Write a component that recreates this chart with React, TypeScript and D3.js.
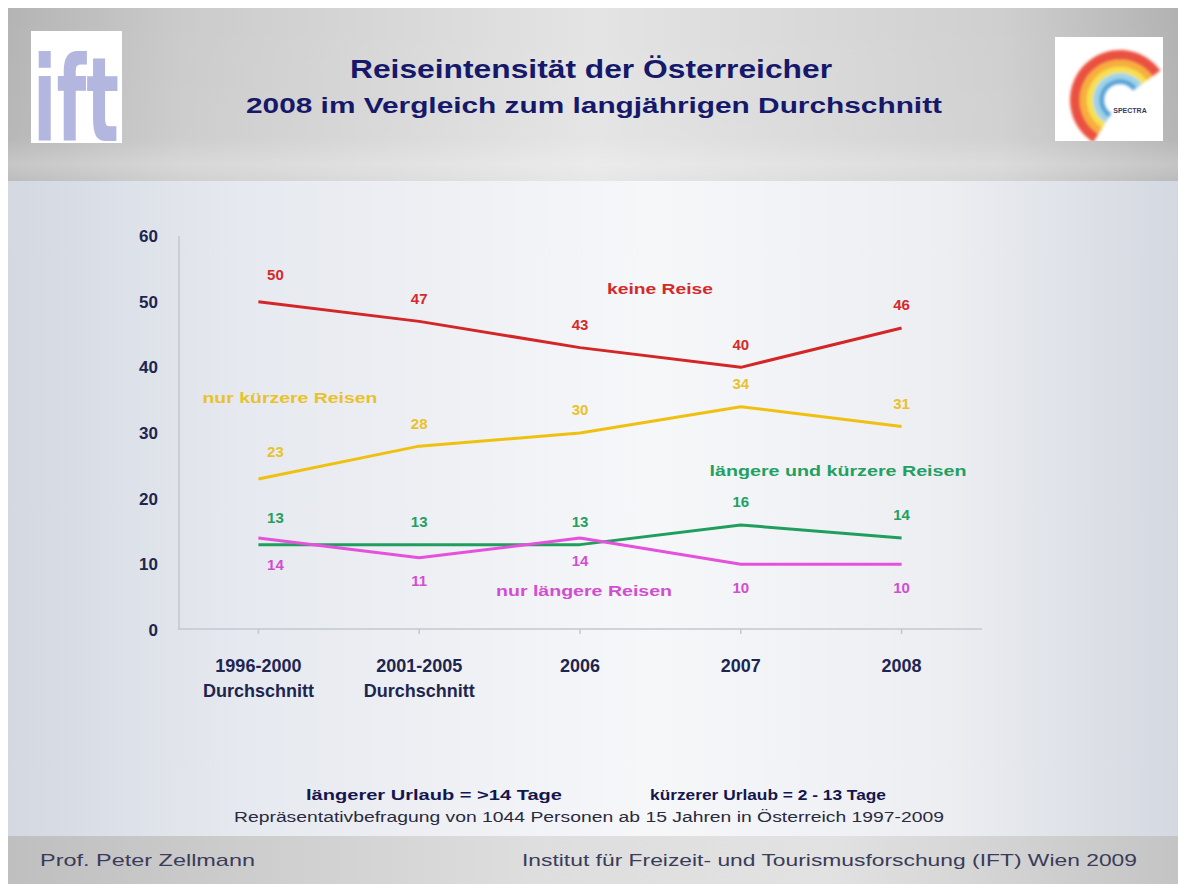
import React from "react";
import * as d3 from "d3";

const categories = ["1996-2000|Durchschnitt", "2001-2005|Durchschnitt", "2006", "2007", "2008"];
const keineReise = [50, 47, 43, 40, 46];
const nurKuerzere = [23, 28, 30, 34, 31];
const laengereUndKuerzere = [13, 13, 13, 16, 14];
const nurLaengere = [14, 11, 14, 10, 10];
const yTicks = [0, 10, 20, 30, 40, 50, 60];

const seriesNames = ["keine Reise", "nur kürzere Reisen", "längere und kürzere Reisen", "nur längere Reisen"];

const W = 1178;
const H = 884;
const FONT = "'Liberation Sans', Arial, sans-serif";
const NAVY = "#1e2550";

export default function App() {
  const x = d3.scalePoint<string>().domain(categories).range([178, 982]).padding(0.5);
  const y = d3.scaleLinear().domain([0, 60]).range([630, 236]);
  const line = d3
    .line<number>()
    .x((_, i) => x(categories[i]) as number)
    .y((d) => y(d));

  const series = [
    { name: seriesNames[0], values: keineReise, stroke: "#d42626", text: "#d42a2a", dir: -1,
      nameX: 660, nameY: 294, nameLen: 106 },
    { name: seriesNames[1], values: nurKuerzere, stroke: "#f0c010", text: "#e9c22a", dir: -1,
      nameX: 290, nameY: 403, nameLen: 175 },
    { name: seriesNames[2], values: laengereUndKuerzere, stroke: "#1f9e5e", text: "#22a062", dir: -1,
      nameX: 838, nameY: 476, nameLen: 257 },
    { name: seriesNames[3], values: nurLaengere, stroke: "#e452dc", text: "#d24ed0", dir: 1,
      nameX: 584, nameY: 596, nameLen: 176 },
  ];

  const arcGen = d3.arc<any>();
  const rainbow = [
    { r0: 40, r1: 50, c: "#e8321e" },
    { r0: 33, r1: 40, c: "#f7a11a" },
    { r0: 27, r1: 33, c: "#f4dc2a" },
    { r0: 21, r1: 27, c: "#8ccbe6" },
    { r0: 16, r1: 21, c: "#3a92cf" },
  ];

  return (
    <svg width={W} height={H} style={{ display: "block", position: "absolute", left: 0, top: 0 }} fontFamily={FONT}>
      <defs>
        <linearGradient id="hdr" x1="0" x2="1" y1="0" y2="0">
          <stop offset="0" stopColor="#b4b4b4" />
          <stop offset="0.15" stopColor="#cbcbcb" />
          <stop offset="0.5" stopColor="#e4e4e4" />
          <stop offset="0.85" stopColor="#cfcfcf" />
          <stop offset="1" stopColor="#b2b2b2" />
        </linearGradient>
        <linearGradient id="hdrV" x1="0" x2="0" y1="0" y2="1">
          <stop offset="0" stopColor="#ffffff" stopOpacity="0" />
          <stop offset="0.75" stopColor="#ffffff" stopOpacity="0.05" />
          <stop offset="0.9" stopColor="#ffffff" stopOpacity="0.25" />
          <stop offset="1" stopColor="#ffffff" stopOpacity="0.1" />
        </linearGradient>
        <linearGradient id="body" x1="0" x2="1" y1="0" y2="0">
          <stop offset="0" stopColor="#d3d8e1" />
          <stop offset="0.2" stopColor="#e6e9ef" />
          <stop offset="0.55" stopColor="#f6f7f9" />
          <stop offset="0.8" stopColor="#eceef2" />
          <stop offset="1" stopColor="#d4d8e0" />
        </linearGradient>
        <linearGradient id="ftr" x1="0" x2="1" y1="0" y2="0">
          <stop offset="0" stopColor="#bfbfbf" />
          <stop offset="0.45" stopColor="#dedede" />
          <stop offset="0.7" stopColor="#e2e2e2" />
          <stop offset="1" stopColor="#c4c4c4" />
        </linearGradient>
        <clipPath id="specClip">
          <rect x={1055} y={37} width={108} height={104} />
        </clipPath>
        <filter id="soft" x="-10%" y="-10%" width="120%" height="120%">
          <feGaussianBlur stdDeviation="1.6" />
        </filter>
      </defs>
      <rect x={0} y={0} width={W} height={H} fill="#ffffff" />
      {/* backgrounds */}
      <rect x={8} y={8} width={W - 8} height={174} fill="url(#hdr)" />
      <rect x={8} y={8} width={W - 8} height={174} fill="url(#hdrV)" />
      <rect x={8} y={181} width={W - 8} height={657} fill="url(#body)" />
      <rect x={8} y={836} width={W - 8} height={48} fill="url(#ftr)" />

      {/* ift logo */}
      <rect x={31} y={31} width={91} height={112} fill="#ffffff" />
      <text x={33} y={141} fontSize={118} fontWeight="bold" fill="#b3b6de"
        textLength={86} lengthAdjust="spacingAndGlyphs" fontFamily="'DejaVu Sans', sans-serif">ift</text>

      {/* spectra logo */}
      <rect x={1055} y={37} width={108} height={104} fill="#ffffff" />
      <g clipPath="url(#specClip)">
        <g transform="translate(1120,100)" filter="url(#soft)">
          {rainbow.map((b, i) => (
            <path key={i}
              d={arcGen({ innerRadius: b.r0, outerRadius: b.r1, startAngle: -0.82 * Math.PI, endAngle: 0.3 * Math.PI }) as string}
              fill={b.c} opacity={0.85} />
          ))}
        </g>
      </g>
      <text x={1130} y={113} fontSize={7} fontWeight="bold" fill="#3a3a60" textAnchor="middle">SPECTRA</text>

      {/* title */}
      <text x={591} y={78} textAnchor="middle" fontSize={25} fontWeight="bold" fill="#16186a"
        textLength={482} lengthAdjust="spacingAndGlyphs">Reiseintensität der Österreicher</text>
      <text x={594} y={113} textAnchor="middle" fontSize={22} fontWeight="bold" fill="#16186a"
        textLength={696} lengthAdjust="spacingAndGlyphs">2008 im Vergleich zum langjährigen Durchschnitt</text>

      {/* axes */}
      <line x1={179} x2={179} y1={236} y2={630} stroke="#c3c7cf" strokeWidth={1.5} />
      <line x1={178} x2={982} y1={629} y2={629} stroke="#c3c7cf" strokeWidth={1.5} />
      {categories.map((c) => (
        <line key={c} x1={x(c)} x2={x(c)} y1={629} y2={634} stroke="#c3c7cf" strokeWidth={1.5} />
      ))}
      {yTicks.map((t) => (
        <text key={t} x={158} y={y(t)} dy="0.36em" textAnchor="end" fontSize={17} fontWeight="bold" fill={NAVY}>
          {t}
        </text>
      ))}
      {categories.map((c) => {
        const parts = c.split("|");
        return (
          <text key={c} textAnchor="middle" fontSize={18} fontWeight="bold" fill={NAVY}>
            {parts.map((p, j) => (
              <tspan key={j} x={x(c)} y={672 + j * 25}>{p}</tspan>
            ))}
          </text>
        );
      })}

      {/* lines */}
      {series.map((s) => (
        <path key={s.name} d={line(s.values) as string} fill="none" stroke={s.stroke} strokeWidth={3}
          strokeLinejoin="round" />
      ))}

      {/* value labels */}
      {series.map((s) =>
        s.values.map((v, i) => (
          <text key={s.name + i}
            x={(x(categories[i]) as number) + (i === 0 ? 17 : 0)}
            y={y(v) + s.dir * (i === 0 ? 27 : 23)}
            dy="0.36em" textAnchor="middle" fontSize={15} fontWeight="bold" fill={s.text}>
            {v}
          </text>
        ))
      )}

      {/* series names */}
      {series.map((s) => (
        <text key={"n" + s.name} x={s.nameX} y={s.nameY} textAnchor="middle" fontSize={15} fontWeight="bold"
          fill={s.text} textLength={s.nameLen} lengthAdjust="spacingAndGlyphs">
          {s.name}
        </text>
      ))}

      {/* footnotes */}
      <text x={434} y={800} textAnchor="middle" fontSize={15} fontWeight="bold" fill="#14164e"
        textLength={256} lengthAdjust="spacingAndGlyphs">längerer Urlaub =  &gt;14 Tage</text>
      <text x={768} y={800} textAnchor="middle" fontSize={15} fontWeight="bold" fill="#14164e"
        textLength={236} lengthAdjust="spacingAndGlyphs">kürzerer Urlaub = 2 - 13 Tage</text>
      <text x={589} y={822} textAnchor="middle" fontSize={14} fill="#2a2a40"
        textLength={710} lengthAdjust="spacingAndGlyphs">Repräsentativbefragung von 1044 Personen ab 15 Jahren  in Österreich 1997-2009</text>
      <text x={40} y={866} fontSize={17} fill="#3a3c5a" textLength={215} lengthAdjust="spacingAndGlyphs">Prof. Peter Zellmann</text>
      <text x={1137} y={866} textAnchor="end" fontSize={17} fill="#3a3c5a" textLength={615}
        lengthAdjust="spacingAndGlyphs">Institut für Freizeit- und Tourismusforschung (IFT) Wien  2009</text>
    </svg>
  );
}
